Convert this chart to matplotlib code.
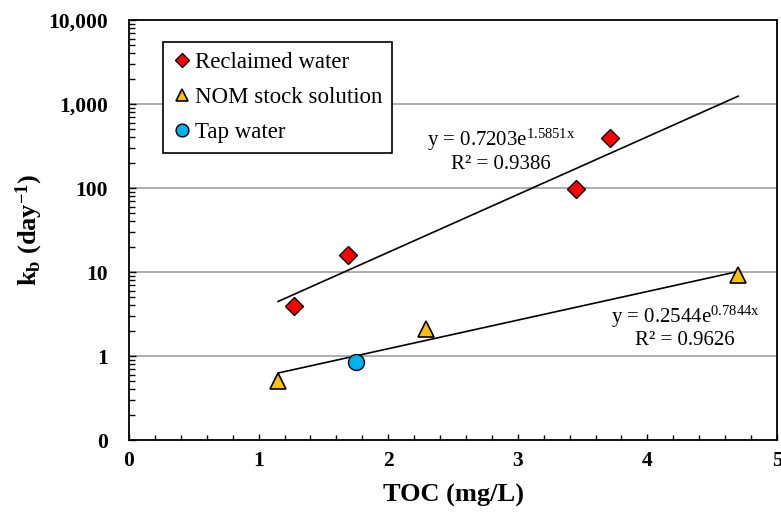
import matplotlib
matplotlib.use("Agg")
import matplotlib.pyplot as plt
import numpy as np

plt.rcParams['font.family'] = ['Liberation Serif', 'DejaVu Serif']
plt.rcParams['mathtext.fontset'] = 'custom'
plt.rcParams['mathtext.rm'] = 'Liberation Serif'
plt.rcParams['mathtext.it'] = 'Liberation Serif:italic'
plt.rcParams['mathtext.bf'] = 'Liberation Serif:bold'

# data
reclaimed_toc = [1.27, 1.69, 3.45, 3.71]
reclaimed_kb = [3.95, 16.0, 97.0, 390.0]
nom_toc = [1.15, 2.29, 4.70]
nom_kb = [0.50, 2.1, 9.2]
tap_toc = [1.75]
tap_kb = [0.85]

# excel exponential trendlines y = a*exp(b*x)
fit_reclaimed = (0.7203, 1.5851)
fit_nom = (0.2544, 0.7844)
fit_range = (1.15, 4.70)

yticks = [0.1, 1, 10, 100, 1000, 10000]
ytick_labels = ['0', '1', '10', '100', '1,000', '10,000']
xticks = [0, 1, 2, 3, 4, 5]

fig = plt.figure(figsize=(7.81, 5.12), dpi=100)
ax = fig.add_axes([0.1652, 0.1406, 0.8297, 0.8203])

ax.set_yscale('log')
ax.set_xlim(0, 5)
ax.set_ylim(0.1, 10000)

for yv in [1, 10, 100, 1000]:
    ax.axhline(yv, color='#a0a0a0', lw=1.2, zorder=0)

xf = np.linspace(fit_range[0], fit_range[1], 50)
ax.plot(xf, fit_reclaimed[0]*np.exp(fit_reclaimed[1]*xf), color='black', lw=1.2, zorder=2)
ax.plot(xf, fit_nom[0]*np.exp(fit_nom[1]*xf), color='black', lw=1.2, zorder=2)

ax.plot(reclaimed_toc, reclaimed_kb, 'D', ms=9.5, mfc='#ff0000', mec='black', mew=1.0,
        ls='none', label='Reclaimed water', zorder=3)
ax.plot(nom_toc, nom_kb, '^', ms=11.5, mfc='#ffc000', mec='black', mew=1.2,
        ls='none', label='NOM stock solution', zorder=3)
ax.plot(tap_toc, tap_kb, 'o', ms=11.5, mfc='#00b0f0', mec='black', mew=1.0,
        ls='none', label='Tap water', zorder=3)

ax.set_yticks(yticks)
ax.set_yticklabels(ytick_labels)
ax.yaxis.set_minor_locator(matplotlib.ticker.LogLocator(base=10, subs=np.arange(2, 10)))
ax.yaxis.set_minor_formatter(matplotlib.ticker.NullFormatter())
ax.set_xticks(xticks)
ax.xaxis.set_minor_locator(matplotlib.ticker.MultipleLocator(0.2))

ax.tick_params(axis='y', which='major', direction='in', length=5, width=1, pad=15, labelsize=15.5)
ax.tick_params(axis='y', which='minor', direction='in', length=4, width=1)
ax.tick_params(axis='x', which='major', direction='in', length=4.5, width=1, pad=8, labelsize=15.5)
ax.tick_params(axis='x', which='minor', direction='in', length=3.5, width=1)
for lab in ax.get_xticklabels() + ax.get_yticklabels():
    lab.set_fontweight('bold')

for sp in ax.spines.values():
    sp.set_linewidth(1.3)
    sp.set_color('black')

ax.set_xlabel('TOC (mg/L)', fontsize=19, fontweight='bold')
ax.xaxis.set_label_coords(0.5, -0.105)
ax.set_ylabel(r'k$_\mathbf{b}$ (day$^\mathbf{-1}$)', fontsize=19, fontweight='bold')
ax.yaxis.set_label_coords(-0.13, 0.5)

ax.text(2.87, 373, r'y = 0.7203e$^\mathrm{1.5851x}$', fontsize=15, ha='center', va='center')
ax.text(2.87, 188, 'R² = 0.9386', fontsize=15, ha='center', va='center')
ax.text(4.29, 2.91, r'y = 0.2544e$^\mathrm{0.7844x}$', fontsize=15, ha='center', va='center')
ax.text(4.29, 1.51, 'R² = 0.9626', fontsize=15, ha='center', va='center')

leg = ax.legend(loc='upper left', bbox_to_anchor=(0.052, 0.948), borderaxespad=0,
                fontsize=16.5, frameon=True, fancybox=False, edgecolor='black',
                handlelength=0.8, handletextpad=0.15, borderpad=0.45, labelspacing=0.6,
                markerscale=0.8)
leg.get_frame().set_linewidth(1.2)
leg.get_frame().set_alpha(1)

fig.savefig('out.png', dpi=100)
